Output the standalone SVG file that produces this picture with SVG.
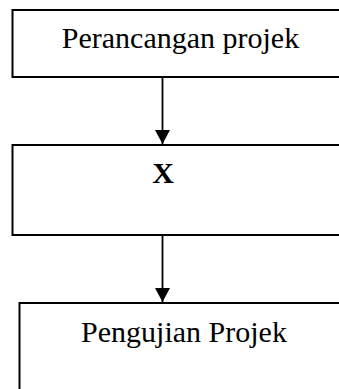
<svg xmlns="http://www.w3.org/2000/svg" width="339" height="389" viewBox="0 0 339 389">
<defs>
<style>
.box{fill:#fff;stroke:#000;stroke-width:2}
.t{font-family:"Liberation Serif","Times New Roman",serif;font-size:30px;fill:#000;text-anchor:middle}
.b{font-weight:bold}
.c{stroke:#000;stroke-width:1.8;fill:none}
</style>
<marker id="ah" markerUnits="userSpaceOnUse" markerWidth="16" markerHeight="16" refX="14" refY="7.5" orient="auto">
<path d="M0,0 L14,7.5 L0,15 Z" fill="#000"/>
</marker>
</defs>
<rect width="339" height="389" fill="#fff"/>
<g id="connectors">
<line class="c" x1="162.5" y1="77" x2="162.5" y2="144" marker-end="url(#ah)"/>
<line class="c" x1="162.5" y1="235" x2="162.5" y2="302" marker-end="url(#ah)"/>
</g>
<g id="node-perancangan">
<rect class="box" x="12.5" y="10" width="340" height="67"/>
<text class="t" x="180.5" y="48">Perancangan projek</text>
</g>
<g id="node-x">
<rect class="box" x="12.5" y="145" width="340" height="90"/>
<text class="t b" x="163" y="183">X</text>
</g>
<g id="node-pengujian">
<rect class="box" x="19.5" y="303" width="340" height="100"/>
<text class="t" x="184" y="342">Pengujian Projek</text>
</g>
</svg>
